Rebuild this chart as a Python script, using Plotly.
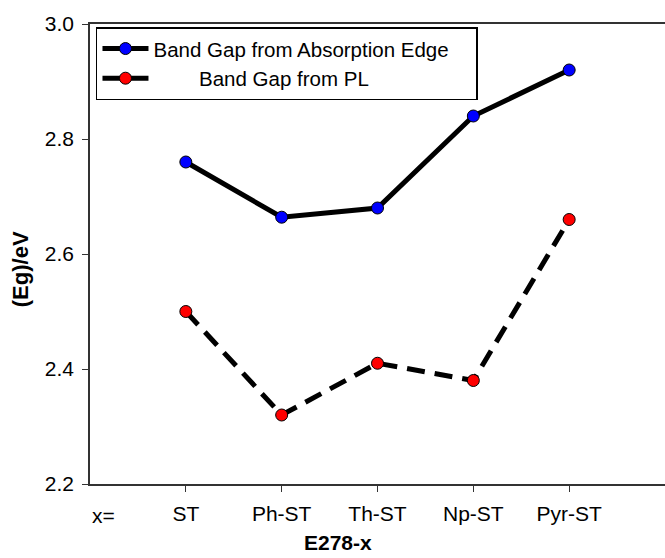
import plotly.graph_objects as go

categories = ["ST", "Ph-ST", "Th-ST", "Np-ST", "Pyr-ST"]
x_pos = [1, 2, 3, 4, 5]
eg_absorption = [2.76, 2.664, 2.68, 2.84, 2.92]
eg_pl = [2.50, 2.32, 2.41, 2.38, 2.66]
y_ticks = [2.2, 2.4, 2.6, 2.8, 3.0]
y_ticklabels = ["2.2", "2.4", "2.6", "2.8", "3.0"]

FONT = "Liberation Sans, Arial, sans-serif"
NB = "\u00a0"

fig = go.Figure()
fig.add_trace(go.Scatter(
    x=x_pos, y=eg_absorption, mode="lines+markers",
    name="Band Gap from Absorption Edge" + NB * 4,
    line=dict(color="black", width=5),
    marker=dict(color="#0000ff", size=12, line=dict(color="black", width=1)),
))
fig.add_trace(go.Scatter(
    x=x_pos, y=eg_pl, mode="lines+markers",
    name=NB * 8 + "Band Gap from PL",
    line=dict(color="black", width=5, dash="18px,10px"),
    marker=dict(color="#ff0000", size=12, line=dict(color="black", width=1)),
))

fig.add_annotation(x=0.14, y=2.2, xref="x", yref="y", text="x=", showarrow=False,
                   yshift=-31, font=dict(family=FONT, size=21, color="black"))
# axis titles
fig.add_annotation(x=0.431, y=-0.128, xref="paper", yref="paper", text="<b>E278-x</b>",
                   showarrow=False, xanchor="center", yanchor="middle",
                   font=dict(family=FONT, size=21, color="black"))
fig.add_annotation(x=-0.1217, y=0.467, xref="paper", yref="paper", text="<b>(Eg)/eV</b>",
                   showarrow=False, xanchor="center", yanchor="middle", textangle=-90,
                   font=dict(family=FONT, size=22, color="black"))

fig.update_layout(
    width=665, height=558,
    margin=dict(l=90, r=0, t=24, b=74),
    paper_bgcolor="white", plot_bgcolor="white",
    font=dict(family=FONT, size=21, color="black"),
    showlegend=True,
    legend=dict(x=0.0104, y=0.993, xanchor="left", yanchor="top",
                bgcolor="white", bordercolor="black", borderwidth=1.5,
                font=dict(family=FONT, size=20.5, color="black"),
                tracegroupgap=4, itemwidth=46),
    xaxis=dict(range=[0, 6], tickmode="array", tickvals=x_pos, ticktext=categories,
               showgrid=False, zeroline=False, showline=True, linecolor="#333333",
               linewidth=1.5, mirror=True, ticks="outside", ticklen=6,
               tickcolor="#333333", tickfont=dict(family=FONT, size=21, color="black"),
               ticklabelstandoff=4),
    yaxis=dict(range=[2.2, 3.0], tickmode="array", tickvals=y_ticks, ticktext=y_ticklabels,
               showgrid=False, zeroline=False, showline=True, linecolor="#333333",
               linewidth=1.5, ticks="outside", ticklen=6, tickcolor="#333333",
               tickfont=dict(family=FONT, size=21, color="black"),
               ticklabelstandoff=4),
)

fig.write_html("out.html")
